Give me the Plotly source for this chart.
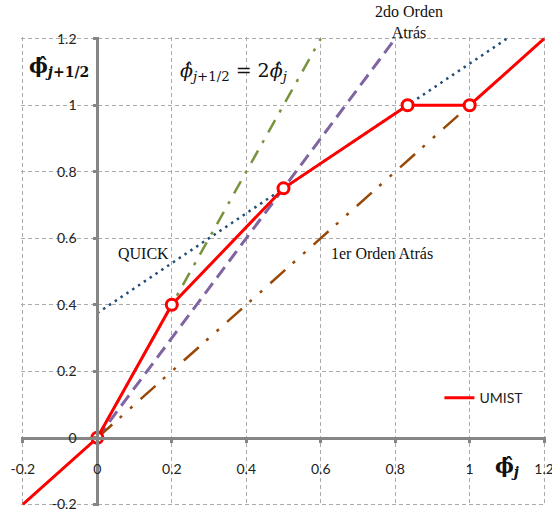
import plotly.graph_objects as go

# ---- data ----
umist_x = [-0.2, 0.0, 0.2, 0.5, 0.8333, 1.0, 1.2]
umist_y = [-0.2, 0.0, 0.4, 0.75, 1.0, 1.0, 1.2]
umist_mk_x = [0.0, 0.2, 0.5, 0.8333, 1.0]
umist_mk_y = [0.0, 0.4, 0.75, 1.0, 1.0]
quick_x = [0.0, 1.1]
quick_y = [0.375, 1.2]
central_x = [0.0, 0.6]      # phi_f = 2 phi
central_y = [0.0, 1.2]
sou_x = [0.0, 0.8]          # 2do orden atras
sou_y = [0.0, 1.2]
fou_x = [0.0, 1.0]          # 1er orden atras
fou_y = [0.0, 1.0]
tick_vals = [-0.2, 0, 0.2, 0.4, 0.6, 0.8, 1, 1.2]
tick_text = ["-0.2", "0", "0.2", "0.4", "0.6", "0.8", "1", "1.2"]

lo, hi = -0.205, 1.205
zero_pos = (0 - lo) / (hi - lo)

fig = go.Figure()
fig.add_trace(go.Scatter(x=central_x, y=central_y, mode="lines", showlegend=False,
                         line=dict(color="#77933c", width=2.5, dash="14px,9px,3px,9px")))
fig.add_trace(go.Scatter(x=sou_x, y=sou_y, mode="lines", showlegend=False,
                         line=dict(color="#8064a2", width=3, dash="13px,7px")))
fig.add_trace(go.Scatter(x=fou_x, y=fou_y, mode="lines", showlegend=False,
                         line=dict(color="#984807", width=2.5, dash="20px,10px,3px,11px,3px,11px")))
fig.add_trace(go.Scatter(x=quick_x, y=quick_y, mode="lines", showlegend=False,
                         line=dict(color="#1f4e79", width=2.5, dash="2.5px,4.5px")))
fig.add_trace(go.Scatter(x=umist_x, y=umist_y, mode="lines", name="UMIST",
                         line=dict(color="#ff0000", width=3)))
fig.add_trace(go.Scatter(x=umist_mk_x, y=umist_mk_y, mode="markers", showlegend=False,
                         marker=dict(size=11, color="white", line=dict(color="#ff0000", width=3))))

axis_common = dict(
    range=[lo, hi], tickvals=tick_vals, ticktext=tick_text,
    showgrid=True, gridcolor="#ababab", gridwidth=1, griddash="4px,3px",
    zeroline=False, showline=True, linecolor="#868686", linewidth=3,
    ticks="outside", ticklen=3, tickwidth=3, tickcolor="#868686",
    anchor="free", position=zero_pos, ticklabeloverflow="allow", automargin=False,
    tickfont=dict(family="Lato", size=14, color="#222222"),
)
fig.update_xaxes(**axis_common, ticklabelstandoff=14)
fig.update_yaxes(**axis_common, ticklabelstandoff=14)

serif = dict(family="Liberation Serif", size=16, color="#111111")
ann = [
    dict(x=0.124, y=0.555, text="QUICK", font=serif),
    dict(x=0.765, y=0.555, text="1er Orden Atrás", font=serif),
    dict(x=0.366, y=1.10, text="<i>ϕ̂</i><sub><i>j</i>+1/2</sub> = 2<i>ϕ̂</i><sub><i>j</i></sub>",
         font=dict(family="DejaVu Serif", size=19, color="#111111")),
    dict(x=-0.104, y=1.116, text="<b>ϕ̂</b><sub><b><i>j</i>+1/2</b></sub>",
         font=dict(family="DejaVu Serif", size=20, color="#111111")),
    dict(x=1.101, y=-0.088, text="<b>ϕ̂</b><sub><b><i>j</i></b></sub>",
         font=dict(family="DejaVu Serif", size=20, color="#111111")),
]
for a in ann:
    fig.add_annotation(xref="x", yref="y", showarrow=False,
                       xanchor="center", yanchor="middle", **a)
# label above the plot area (outside the axis range) -> paper coordinates
fig.add_annotation(xref="paper", yref="paper", x=(0.838 - lo) / (hi - lo),
                   y=(1.251 - lo) / (hi - lo), text="2do Orden<br>Atrás",
                   xanchor="center", yanchor="middle",
                   showarrow=False, font=serif)

fig.update_layout(
    width=552, height=510,
    margin=dict(l=21, r=6, t=37, b=4, autoexpand=False),
    paper_bgcolor="white", plot_bgcolor="white",
    showlegend=True,
    legend=dict(x=0.797, y=0.23, xanchor="left", yanchor="middle",
                bgcolor="rgba(0,0,0,0)", font=dict(family="Lato", size=14, color="#222222")),
)
fig.write_html("out.html")
